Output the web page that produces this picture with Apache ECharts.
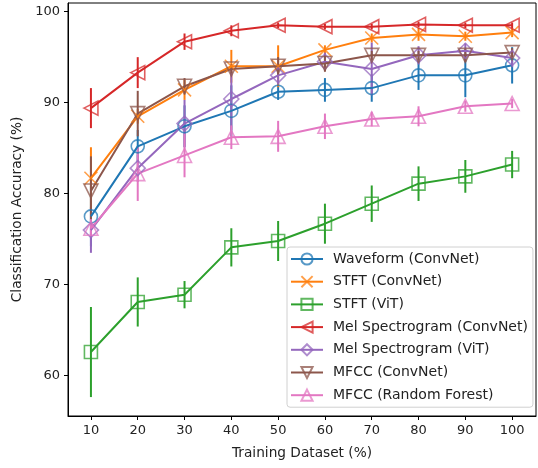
<!DOCTYPE html>
<html>
<head>
<meta charset="utf-8">
<script src="https://cdn.jsdelivr.net/npm/echarts@6/dist/echarts.min.js"></script>
<style>
  html, body { margin: 0; padding: 0; background: #fff; }
  #main { width: 538px; height: 468px; }
</style>
</head>
<body>
<div id="main"></div>
<script>
// training set share on x
const trainPct = [10, 20, 30, 40, 50, 60, 70, 80, 90, 100];
const yTicks = [60, 70, 80, 90, 100];

// mean accuracy and error (half height of the bar) per model
const waveformConv    = [77.5, 85.2, 87.4, 89.1, 91.2, 91.4, 91.6, 93.0, 93.0, 94.1];
const waveformConvErr = [3.3, 1.8, 2.3, 2.8, 0.9, 1.3, 1.5, 1.6, 2.4, 2.0];
const stftConv        = [81.7, 88.5, 91.4, 94.0, 94.0, 95.8, 97.1, 97.5, 97.3, 97.7];
const stftConvErr     = [3.4, 0.8, 1.1, 1.8, 2.3, 0.5, 0.5, 0.7, 0.5, 0.5];
const stftVit         = [62.6, 68.1, 68.9, 74.1, 74.8, 76.7, 78.9, 81.1, 81.9, 83.2];
const stftVitErr      = [4.95, 2.7, 1.5, 2.1, 2.2, 2.2, 2.0, 1.9, 1.8, 1.5];
const melConv         = [89.4, 93.3, 96.7, 97.9, 98.5, 98.35, 98.35, 98.6, 98.5, 98.5];
const melConvErr      = [2.2, 1.7, 0.9, 0.6, 0.3, 0.3, 0.3, 0.3, 0.3, 0.3];
const melVit          = [76.0, 82.8, 87.7, 90.4, 93.0, 94.5, 93.7, 95.2, 95.7, 94.9];
const melVitErr       = [2.5, 1.5, 2.6, 3.4, 1.0, 1.0, 2.9, 1.0, 0.8, 1.0];
const mfccConv        = [80.3, 88.8, 91.8, 93.7, 94.0, 94.3, 95.2, 95.2, 95.2, 95.5];
const mfccConvErr     = [3.8, 2.5, 0.9, 0.5, 1.0, 0.9, 0.5, 0.5, 0.7, 0.5];
const mfccRf          = [76.2, 82.2, 84.2, 86.2, 86.3, 87.4, 88.2, 88.5, 89.6, 89.9];
const mfccRfErr       = [1.0, 3.0, 2.4, 1.3, 1.7, 1.4, 0.8, 1.1, 0.6, 0.5];

const models = [
  {name: 'Waveform (ConvNet)', y: waveformConv, err: waveformConvErr, color: '#1f77b4', symbol: 'circle', size: 13, rot: 0},
  {name: 'STFT (ConvNet)', y: stftConv, err: stftConvErr, color: '#ff7f0e', symbol: 'path://M0,0L10,10M0,10L10,0', size: 13, rot: 0},
  {name: 'STFT (ViT)', y: stftVit, err: stftVitErr, color: '#2ca02c', symbol: 'rect', size: 13, rot: 0},
  {name: 'Mel Spectrogram (ConvNet)', y: melConv, err: melConvErr, color: '#d62728', symbol: 'triangle', size: 14, rot: 90},
  {name: 'Mel Spectrogram (ViT)', y: melVit, err: melVitErr, color: '#9467bd', symbol: 'diamond', size: 15, rot: 0},
  {name: 'MFCC (ConvNet)', y: mfccConv, err: mfccConvErr, color: '#8c564b', symbol: 'triangle', size: 14, rot: 180},
  {name: 'MFCC (Random Forest)', y: mfccRf, err: mfccRfErr, color: '#e377c2', symbol: 'triangle', size: 14, rot: 0}
];

const font = 'DejaVu Sans';

function errBar(color) {
  return function (params, api) {
    const x = api.value(0);
    const lo = api.coord([x, api.value(1)]);
    const hi = api.coord([x, api.value(2)]);
    return {
      type: 'line',
      shape: {x1: lo[0], y1: lo[1], x2: hi[0], y2: hi[1]},
      style: {stroke: color, lineWidth: 2}
    };
  };
}

let series = [];
models.forEach(m => {
  series.push({
    name: m.name + ' err',
    type: 'custom',
    renderItem: errBar(m.color),
    encode: {x: 0, y: [1, 2]},
    data: trainPct.map((x, i) => [x, m.y[i] - m.err[i], m.y[i] + m.err[i]]),
    silent: true
  });
  series.push({
    name: m.name,
    type: 'line',
    data: trainPct.map((x, i) => [x, m.y[i]]),
    symbol: m.symbol,
    symbolSize: m.size,
    symbolRotate: m.rot,
    lineStyle: {color: m.color, width: 2},
    itemStyle: {color: 'rgba(0,0,0,0)', borderColor: m.color, borderWidth: 1.6, opacity: 0.75}
  });
});

const chart = echarts.init(document.getElementById('main'));
chart.setOption({
  animation: false,
  textStyle: {fontFamily: font},
  grid: {left: 68, right: 2, top: 3, bottom: 52, show: true, borderColor: '#000', borderWidth: 1},
  legend: {
    data: models.map(m => m.name),
    orient: 'vertical',
    left: 287,
    top: 247,
    padding: [5, 5, 5, 3],
    itemWidth: 32,
    itemHeight: 14,
    itemGap: 8.7,
    backgroundColor: 'rgba(255,255,255,0.8)',
    borderColor: '#d0d0d0',
    borderWidth: 1,
    borderRadius: 3,
    textStyle: {fontFamily: font, fontSize: 14, color: '#222', padding: [0, 0, 0, 5]}
  },
  xAxis: {
    type: 'value',
    min: 5.1,
    max: 105.1,
    name: 'Training Dataset (%)',
    nameLocation: 'middle',
    nameGap: 30,
    nameTextStyle: {fontFamily: font, fontSize: 13.7, color: '#222'},
    axisLine: {lineStyle: {color: '#000', width: 1}},
    axisTick: {customValues: trainPct, length: 4, lineStyle: {color: '#000'}},
    axisLabel: {customValues: trainPct, margin: 8, fontFamily: font, fontSize: 13, color: '#222'},
    splitLine: {show: false}
  },
  yAxis: {
    type: 'value',
    min: 55.57,
    max: 100.95,
    name: 'Classification Accuracy (%)',
    nameLocation: 'middle',
    nameGap: 43,
    nameTextStyle: {fontFamily: font, fontSize: 13.7, color: '#222'},
    axisLine: {show: true, lineStyle: {color: '#000', width: 1}},
    axisTick: {show: true, customValues: yTicks, length: 4, lineStyle: {color: '#000'}},
    axisLabel: {customValues: yTicks, margin: 8, fontFamily: font, fontSize: 13, color: '#222'},
    splitLine: {show: false}
  },
  series: series
});
</script>
</body>
</html>
